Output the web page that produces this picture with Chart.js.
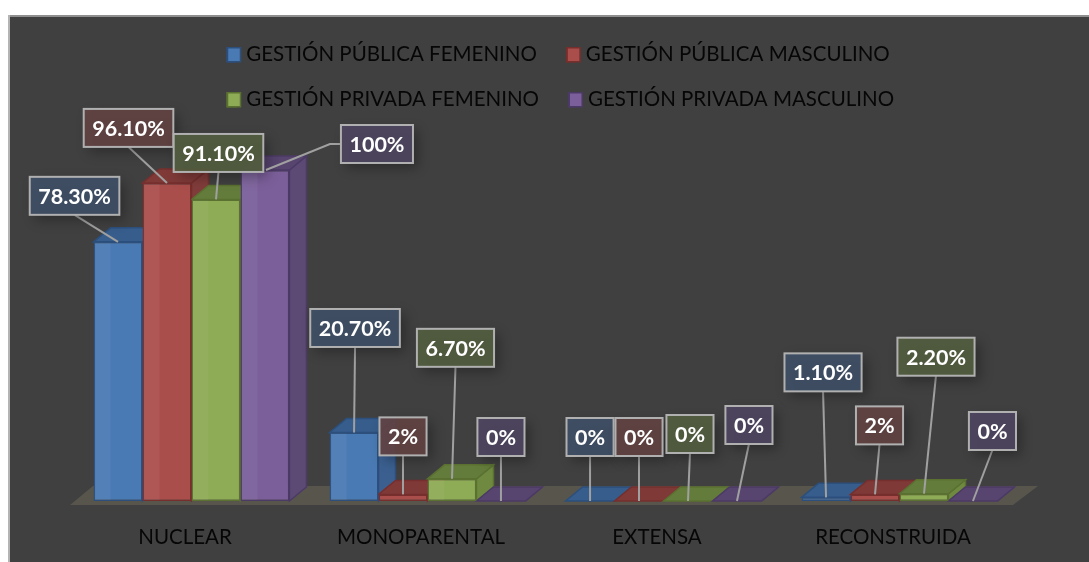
<!DOCTYPE html>
<html><head><meta charset="utf-8">
<script src="https://cdn.jsdelivr.net/npm/chart.js@4/dist/chart.umd.min.js"></script>
<style>html,body{margin:0;padding:0;background:#fff}#w{width:1089px;height:562px}canvas{display:block}</style>
</head><body><div id="w"><canvas id="c" width="1089" height="562"></canvas></div>
<script>
const categories = ['NUCLEAR','MONOPARENTAL','EXTENSA','RECONSTRUIDA'];
const publicaFemenino = [78.3, 20.7, 0, 1.1];
const publicaMasculino = [96.1, 2, 0, 2];
const privadaFemenino = [91.1, 6.7, 0, 2.2];
const privadaMasculino = [100, 0, 0, 0];
const publicaFemeninoText = ['78.30%','20.70%','0%','1.10%'];
const publicaMasculinoText = ['96.10%','2%','0%','2%'];
const privadaFemeninoText = ['91.10%','6.70%','0%','2.20%'];
const privadaMasculinoText = ['100%','0%','0%','0%'];
const seriesNames = ['GESTIÓN PÚBLICA FEMENINO','GESTIÓN PÚBLICA MASCULINO','GESTIÓN PRIVADA FEMENINO','GESTIÓN PRIVADA MASCULINO'];

const FONT = 'Lato, Carlito, sans-serif';
const DX = 17, DY = -14;
const styles = [
 {front:'#4a7ab3',edge:'#2c4f7c',top:'#375d8c',side:'#3b6090',label:'#3f5067'},
 {front:'#aa4e4b',edge:'#762f2d',top:'#7f3a38',side:'#803c3a',label:'#634242'},
 {front:'#8eab55',edge:'#5a7131',top:'#647c3b',side:'#6f8a40',label:'#535e3f'},
 {front:'#7b5f9a',edge:'#4c3a66',top:'#57446f',side:'#5c4a75',label:'#4f4560'}
];
// callout box centre relative to the bar's front-top centre
const calloutOffsets = [
 [[-43.5,-46],[1,-104.5],[0,-64],[-3,-125]],
 [[-38.5,-55],[0,-58],[0,-64],[4.5,-69]],
 [[2.5,-46.5],[3.5,-131],[2,-67],[12,-137]],
 [[112,-26],[0,-64],[12,-76],[19.5,-70]]
];
const texts = [publicaFemeninoText,publicaMasculinoText,privadaFemeninoText,privadaMasculinoText];

function poly(ctx,pts,fill,stroke){
  ctx.beginPath();pts.forEach((p,i)=>i?ctx.lineTo(p[0],p[1]):ctx.moveTo(p[0],p[1]));ctx.closePath();
  ctx.fillStyle=fill;ctx.fill();ctx.lineWidth=1.5;ctx.strokeStyle=stroke;ctx.stroke();
}
const panel = {id:'panel',beforeDraw(chart){
  const c=chart.ctx;
  c.save();c.fillStyle='#fff';c.fillRect(0,0,1089,562);
  c.fillStyle='#404040';c.fillRect(8,15,1081,547);
  c.fillStyle='#8f8f8f';c.fillRect(8,15,1081,2);
  c.fillStyle='#b4b4b4';c.fillRect(8,15,2,547);
  c.restore();
}};
const threeD = {id:'threeD',
 afterLayout(chart){ const l=chart.legend; l.left=202.5; l.right=l.left+l.width; l.top=20; l.bottom=l.top+l.height; },
 beforeDatasetsDraw(chart){
  const c=chart.ctx, a=chart.chartArea; c.save();
  const base=a.bottom;
  c.beginPath();c.moveTo(a.left-3.5,base+4);c.lineTo(a.left+19.5,base-15);c.lineTo(a.right+20.5,base-15);c.lineTo(a.right-4.5,base+4);c.closePath();
  c.fillStyle='#58554c';c.fill();
  chart.data.labels.forEach((_,i)=>{
   chart.data.datasets.forEach((ds,s)=>{
    const e=chart.getDatasetMeta(s).data[i], st=styles[s];
    const l=e.x-e.width/2, r=e.x+e.width/2;
    poly(c,[[r,e.y],[r+DX,e.y+DY],[r+DX,base+DY],[r,base]],st.side,st.edge);
    poly(c,[[l,e.y],[l+DX,e.y+DY],[r+DX,e.y+DY],[r,e.y]],st.top,st.edge);
   });
  });
  c.restore();
 },
 afterDatasetsDraw(chart){
  const c=chart.ctx; c.save();
  chart.data.labels.forEach((_,i)=>chart.data.datasets.forEach((ds,s)=>{
    const e=chart.getDatasetMeta(s).data[i], l=e.x-e.width/2;
    if(e.base-e.y>16){c.fillStyle='rgba(255,255,255,0.05)';c.fillRect(l+1,e.y+1,DX-1,e.base-e.y-2);}
  }));
  c.font='bold 21.5px '+FONT;c.textAlign='center';c.textBaseline='middle';
  chart.data.datasets.forEach((ds,s)=>{
   const meta=chart.getDatasetMeta(s);
   meta.data.forEach((e,i)=>{
    const [ox,oy]=calloutOffsets[s][i], t=texts[s][i];
    const cx=e.x+ox, cy=e.y+oy, w=c.measureText(t).width+17, h=38;
    c.strokeStyle='#a0a0a0';c.lineWidth=2;c.beginPath();
    if(ox>50){c.moveTo(cx-w/2,cy);c.lineTo(cx-w/2-11,cy);c.lineTo(e.x+1,e.y);}
    else{c.moveTo(cx,cy+h/2);c.lineTo(e.x,e.y);}
    c.stroke();
    c.save();c.shadowColor='rgba(0,0,0,0.35)';c.shadowBlur=12;c.shadowOffsetX=5;c.shadowOffsetY=5;
    c.globalAlpha=0.9;c.fillStyle=styles[s].label;c.fillRect(cx-w/2,cy-h/2,w,h);c.restore();
    c.strokeStyle='#b0b0b0';c.lineWidth=2;c.strokeRect(cx-w/2,cy-h/2,w,h);
    c.fillStyle='#fff';c.fillText(t,cx,cy+1);
   });
  });
  c.restore();
 },
 afterDraw(chart){
  // full-size legend swatches over the legend's own box
  const c=chart.ctx,l=chart.legend; c.save();
  l.legendHitBoxes.forEach((h,s)=>{
    const st=styles[s];c.fillStyle=st.front;c.strokeStyle=st.edge;c.lineWidth=1.5;
    const y=h.top+(h.height-14)/2;
    c.fillRect(h.left+.5,y,13,14);c.strokeRect(h.left+.5,y,13,14);
  });
  c.restore();
 }
};
const values=[publicaFemenino,publicaMasculino,privadaFemenino,privadaMasculino];
new Chart(document.getElementById('c'),{
 type:'bar',
 data:{labels:categories,datasets:values.map((v,s)=>({label:seriesNames[s]+' ',data:v,backgroundColor:styles[s].front,borderColor:styles[s].edge,borderWidth:1.5,borderSkipped:false}))},
 plugins:[panel,threeD],
 options:{responsive:false,animation:false,
  layout:{padding:{left:73.5,right:71.5,top:70,bottom:0}},
  datasets:{bar:{categoryPercentage:0.83,barPercentage:1}},
  plugins:{tooltip:{enabled:false},
   legend:{position:'top',fullSize:false,align:'start',labels:{color:'#060606',font:{family:FONT,size:20.5},boxWidth:9,boxHeight:14,padding:24.5}}},
  scales:{
   x:{grid:{display:false},border:{display:false},afterFit(s){s.height=61;},ticks:{color:'#060606',font:{family:FONT,size:20.5},padding:16,labelOffset:-6.5,maxRotation:0}},
   y:{display:false,min:0,max:100}
  }}
});
</script></body></html>
